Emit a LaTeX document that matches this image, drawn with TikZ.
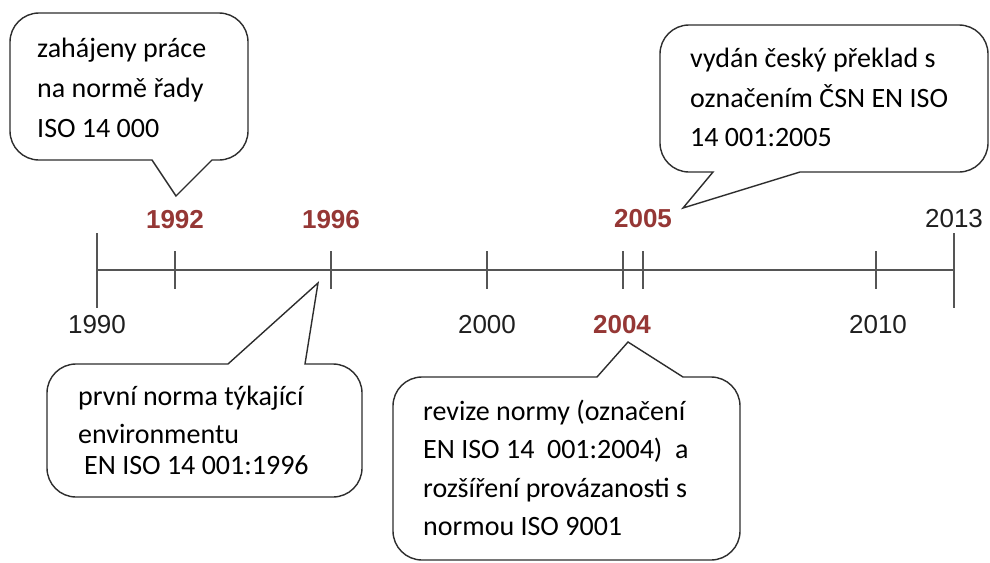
\documentclass[tikz,border=0pt]{standalone}
\usepackage{fontspec}
\setmainfont{Carlito}
\newfontfamily\yearfont{Liberation Sans}
\definecolor{yearred}{RGB}{149,55,53}
\definecolor{axisgray}{RGB}{85,85,85}
\definecolor{bubbleline}{RGB}{45,45,45}

% corner radius of the speech bubbles and its Bezier handle length
\newcommand{\bubr}{29}
\newcommand{\bubk}{16}

% rounded box with its tail on the lower edge:
% #1 #2 = left, top; #3 #4 = right, bottom; #5 #6 = tail base x; #7 #8 = tail tip
\newcommand{\calloutdown}[8]{%
  \draw[bubble] ({#1+\bubr},#2) -- ({#3-\bubr},#2)
    .. controls ({#3-\bubr+\bubk},#2) and (#3,{#2+\bubr-\bubk}) .. (#3,{#2+\bubr})
    -- (#3,{#4-\bubr})
    .. controls (#3,{#4-\bubr+\bubk}) and ({#3-\bubr+\bubk},#4) .. ({#3-\bubr},#4)
    -- (#6,#4) -- (#7,#8) -- (#5,#4)
    -- ({#1+\bubr},#4)
    .. controls ({#1+\bubr-\bubk},#4) and (#1,{#4-\bubr+\bubk}) .. (#1,{#4-\bubr})
    -- (#1,{#2+\bubr})
    .. controls (#1,{#2+\bubr-\bubk}) and ({#1+\bubr-\bubk},#2) .. ({#1+\bubr},#2)
    -- cycle;}

% rounded box with its tail on the upper edge (same arguments)
\newcommand{\calloutup}[8]{%
  \draw[bubble] ({#1+\bubr},#2) -- (#5,#2) -- (#7,#8) -- (#6,#2)
    -- ({#3-\bubr},#2)
    .. controls ({#3-\bubr+\bubk},#2) and (#3,{#2+\bubr-\bubk}) .. (#3,{#2+\bubr})
    -- (#3,{#4-\bubr})
    .. controls (#3,{#4-\bubr+\bubk}) and ({#3-\bubr+\bubk},#4) .. ({#3-\bubr},#4)
    -- ({#1+\bubr},#4)
    .. controls ({#1+\bubr-\bubk},#4) and (#1,{#4-\bubr+\bubk}) .. (#1,{#4-\bubr})
    -- (#1,{#2+\bubr})
    .. controls (#1,{#2+\bubr-\bubk}) and ({#1+\bubr-\bubk},#2) .. ({#1+\bubr},#2)
    -- cycle;}

\begin{document}
\begin{tikzpicture}[x=1pt,y=-1pt,
  bubble/.style={draw=bubbleline, line width=1.4pt, fill=white, line join=miter},
  note/.style={anchor=base west, inner sep=0pt, text=black,
    font=\fontsize{28}{34}\selectfont},
  yr/.style={inner sep=0pt, text=black!88,
    font=\yearfont\fontsize{26}{30}\selectfont},
  redyr/.style={inner sep=0pt, text=yearred,
    font=\yearfont\bfseries\fontsize{26}{30}\selectfont},
  axis/.style={draw=axisgray, line width=2.6pt}]

\fill[white] (0,0) rectangle (990,562);
\useasboundingbox (0,0) rectangle (990,562);

% time axis
\coordinate (axisstart) at (97,270);
\coordinate (axisend) at (954,270);
\draw[axis] (axisstart) -- (axisend);
\draw[axis] (97,233) -- (97,308);
\draw[axis] (954,233) -- (954,308);
\foreach \tx in {175,331,487,623,643,876}
  \draw[axis] (\tx,251) -- (\tx,289);

% year labels
\node[redyr] (y1992) at (175,220) {1992};
\node[redyr] (y1996) at (331,220) {1996};
\node[redyr] (y2005) at (643,219) {2005};
\node[yr]    (y2013) at (954,219) {2013};
\node[yr]    (y1990) at (97,325)  {1990};
\node[yr]    (y2000) at (487,325) {2000};
\node[redyr] (y2004) at (622,325) {2004};
\node[yr]    (y2010) at (878,325) {2010};

% speech bubbles
\calloutdown{10}{13}{248}{160}{152}{212}{176}{196}
\calloutdown{660}{25}{988}{172}{713}{800}{683}{208}
\calloutup{47}{364}{362}{497}{228}{305}{318}{283}
\calloutup{393}{377}{740}{560}{597}{683}{628}{342}

% bubble texts
\node[note] (a1) at (37,57)  {zahájeny práce};
\node[note] (a2) at (37,97)  {na normě řady};
\node[note] (a3) at (37,137) {ISO 14 000};

\node[note] (b1) at (690,67)  {vydán český překlad s};
\node[note] (b2) at (690,107) {označením ČSN EN ISO};
\node[note] (b3) at (690,146) {14 001:2005};

\node[note] (c1) at (78,405) {první norma týkající};
\node[note] (c2) at (78,443) {environmentu};
\node[note] (c3) at (84,474) {EN ISO 14 001:1996};

\node[note] (d1) at (423,420) {revize normy (označení};
\node[note] (d2) at (423,458) {EN ISO 14\ \ 001:2004)\ \ a};
\node[note] (d3) at (423,497) {rozšíření provázanosti s};
\node[note] (d4) at (423,535) {normou ISO 9001};
\end{tikzpicture}
\end{document}
